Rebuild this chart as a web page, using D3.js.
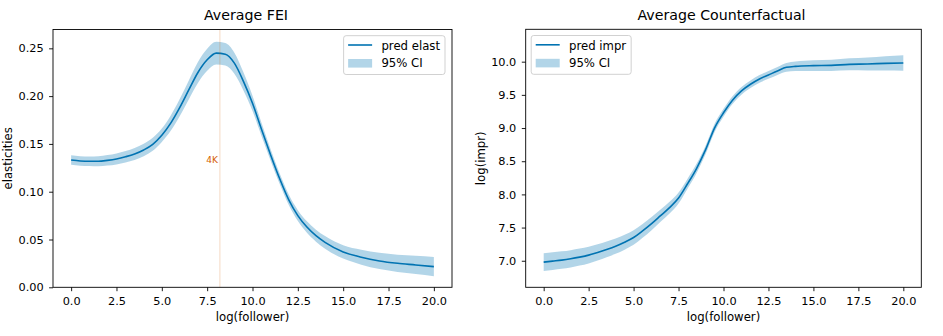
<!DOCTYPE html>
<html>
<head>
<meta charset="utf-8">
<script src="https://cdn.jsdelivr.net/npm/d3@7"></script>
<style>
    html, body { margin: 0; padding: 0; background: #fff; }
    svg { display: block; font-family: "DejaVu Sans", sans-serif; }
</style>
</head>
<body>
<svg id="chart" width="943" height="336"></svg>
<script>
// log(follower) grid shared by both panels
const logFollower = [0, 0.5, 1, 1.5, 2, 2.5, 3, 3.5, 4, 4.5, 5, 5.5, 6, 6.5, 7, 7.5, 8, 8.5, 9, 9.5,
    10, 10.5, 11, 11.5, 12, 12.5, 13, 13.5, 14, 15, 16, 17, 18, 19, 20];

// average FEI (predicted elasticity) and 95% CI half width
const predElast = [0.1332, 0.1322, 0.1318, 0.1318, 0.1328, 0.1343, 0.1366, 0.1395, 0.1437, 0.1496,
    0.1590, 0.1720, 0.1885, 0.2070, 0.2250, 0.2380, 0.2450, 0.2438, 0.2345, 0.2155,
    0.1925, 0.1650, 0.1385, 0.1135, 0.0915, 0.0750, 0.0630, 0.0540, 0.0470, 0.0370,
    0.0315, 0.0276, 0.0251, 0.0234, 0.0216];
const elastHalfCI = [0.0050, 0.0050, 0.0050, 0.0052, 0.0055, 0.0058, 0.0060, 0.0063, 0.0065, 0.0068,
    0.0070, 0.0080, 0.0090, 0.0100, 0.0110, 0.0115, 0.0118, 0.0117, 0.0110, 0.0095,
    0.0080, 0.0070, 0.0060, 0.0055, 0.0055, 0.0057, 0.0060, 0.0063, 0.0066, 0.0070,
    0.0078, 0.0085, 0.0090, 0.0095, 0.0100];

// average counterfactual log(impr) and 95% CI half width
const predImpr = [6.980, 6.995, 7.010, 7.030, 7.055, 7.085, 7.125, 7.170, 7.220, 7.280,
    7.350, 7.450, 7.560, 7.680, 7.800, 7.945, 8.160, 8.390, 8.670, 9.000,
    9.230, 9.420, 9.560, 9.660, 9.740, 9.800, 9.860, 9.915, 9.930, 9.940,
    9.945, 9.960, 9.965, 9.975, 9.980];
const imprHalfCI = [0.135, 0.134, 0.132, 0.130, 0.128, 0.125, 0.122, 0.119, 0.116, 0.113,
    0.110, 0.105, 0.100, 0.094, 0.088, 0.082, 0.075, 0.070, 0.065, 0.062,
    0.060, 0.059, 0.058, 0.058, 0.058, 0.059, 0.060, 0.065, 0.072, 0.080,
    0.085, 0.090, 0.098, 0.108, 0.118];

const xTicks = [0, 2.5, 5, 7.5, 10, 12.5, 15, 17.5, 20];
const elastTicks = [0, 0.05, 0.10, 0.15, 0.20, 0.25];
const imprTicks = [7.0, 7.5, 8.0, 8.5, 9.0, 9.5, 10.0];

// 4K followers marker
const markerX = 8.2;
const markerLabel = "4K";
const markerLabelY = 0.13;

const blue = "#0173b2";
const orange = "#d55e00";

const labelSize = 11.7;
const tickSize = 11.3;
const titleSize = 14.2;

const svg = d3.select("#chart");

function panel(opts) {
    const { left, right, top, bottom } = opts.box;
    const g = svg.append("g");

    const x = d3.scaleLinear().domain([-1, 21]).range([left, right]);
    const y = d3.scaleLinear().domain(opts.yDomain).range([bottom, top]);

    const rows = logFollower.map((f, i) => ({
        x: f, y: opts.values[i], lo: opts.values[i] - opts.half[i], hi: opts.values[i] + opts.half[i]
    }));

    const clipId = "clip-" + opts.id;
    g.append("clipPath").attr("id", clipId)
        .append("rect").attr("x", left).attr("y", top)
        .attr("width", right - left).attr("height", bottom - top);

    const plot = g.append("g").attr("clip-path", `url(#${clipId})`);

    plot.append("path")
        .datum(rows)
        .attr("fill", blue)
        .attr("fill-opacity", 0.3)
        .attr("d", d3.area().curve(d3.curveMonotoneX)
            .x(d => x(d.x)).y0(d => y(d.lo)).y1(d => y(d.hi)));

    plot.append("path")
        .datum(rows)
        .attr("fill", "none")
        .attr("stroke", blue)
        .attr("stroke-width", 1.6)
        .attr("d", d3.line().curve(d3.curveMonotoneX).x(d => x(d.x)).y(d => y(d.y)));

    if (opts.marker) {
        plot.append("line")
            .attr("x1", x(markerX)).attr("x2", x(markerX))
            .attr("y1", top).attr("y2", bottom)
            .attr("stroke", orange).attr("stroke-opacity", 0.15).attr("stroke-width", 1.6);
        plot.append("text")
            .attr("x", x(markerX) - 2).attr("y", y(markerLabelY))
            .attr("text-anchor", "end")
            .attr("font-size", 9)
            .attr("fill", orange)
            .text(markerLabel);
    }

    // axes
    const xAxis = g.append("g")
        .attr("transform", `translate(0,${bottom})`)
        .call(d3.axisBottom(x).tickValues(xTicks).tickFormat(d3.format(".1f"))
            .tickSize(3.9).tickPadding(5.8));
    const yAxis = g.append("g")
        .attr("transform", `translate(${left},0)`)
        .call(d3.axisLeft(y).tickValues(opts.yTicks).tickFormat(d3.format(opts.yFormat))
            .tickSize(3.9).tickPadding(5.5));
    [xAxis, yAxis].forEach(a => {
        a.select(".domain").remove();
        a.selectAll("line").attr("stroke", "#000").attr("stroke-width", 0.9);
        a.selectAll("text").attr("font-size", tickSize).attr("fill", "#000")
            .attr("font-family", "DejaVu Sans, sans-serif");
    });

    g.append("rect")
        .attr("x", left).attr("y", top)
        .attr("width", right - left).attr("height", bottom - top)
        .attr("fill", "none").attr("stroke", "#000").attr("stroke-width", 0.9);

    g.append("text")
        .attr("x", opts.titleX).attr("y", top - 9.5)
        .attr("text-anchor", "middle").attr("font-size", titleSize)
        .text(opts.title);

    g.append("text")
        .attr("x", (left + right) / 2).attr("y", bottom + 33.7)
        .attr("text-anchor", "middle").attr("font-size", labelSize)
        .text("log(follower)");

    g.append("text")
        .attr("transform", `translate(${left - 40.7},${(top + bottom) / 2}) rotate(-90)`)
        .attr("text-anchor", "middle").attr("font-size", labelSize)
        .text(opts.yLabel);

    // legend
    const lg = g.append("g");
    const frame = lg.append("rect");
    const labels = [opts.lineLabel, "95% CI"];
    const texts = labels.map((t, i) => lg.append("text")
        .attr("x", 37.8).attr("y", i === 0 ? 14 : 31)
        .attr("font-size", labelSize).text(t));
    const w = 37.8 + d3.max(texts, t => t.node().getComputedTextLength()) + 5;
    const lx = opts.legendLeft ? left + 5.5 : right - 7 - w;
    lg.attr("transform", `translate(${lx},${top + 6.2})`);
    frame.attr("width", w).attr("height", 38.8).attr("rx", 2.5)
        .attr("fill", "#fff").attr("fill-opacity", 0.8)
        .attr("stroke", "#cccccc").attr("stroke-width", 0.9);
    lg.append("line").attr("x1", 4.5).attr("x2", 28.5).attr("y1", 9.3).attr("y2", 9.3)
        .attr("stroke", blue).attr("stroke-width", 1.6);
    lg.append("rect").attr("x", 4.5).attr("y", 23.3).attr("width", 24).attr("height", 8.6)
        .attr("fill", blue).attr("fill-opacity", 0.3);
}

panel({
    id: "fei",
    box: { left: 53, right: 452, top: 29.5, bottom: 287.3 },
    yDomain: [0, 0.2697],
    values: predElast, half: elastHalfCI,
    yTicks: elastTicks, yFormat: ".2f",
    title: "Average FEI", titleX: 246,
    yLabel: "elasticities",
    lineLabel: "pred elast",
    legendLeft: false,
    marker: true
});

panel({
    id: "cf",
    box: { left: 525.7, right: 921.3, top: 29.3, bottom: 287.3 },
    yDomain: [6.6, 10.488],
    values: predImpr, half: imprHalfCI,
    yTicks: imprTicks, yFormat: ".1f",
    title: "Average Counterfactual", titleX: 721.5,
    yLabel: "log(impr)",
    lineLabel: "pred impr",
    legendLeft: true,
    marker: false
});
</script>
</body>
</html>
